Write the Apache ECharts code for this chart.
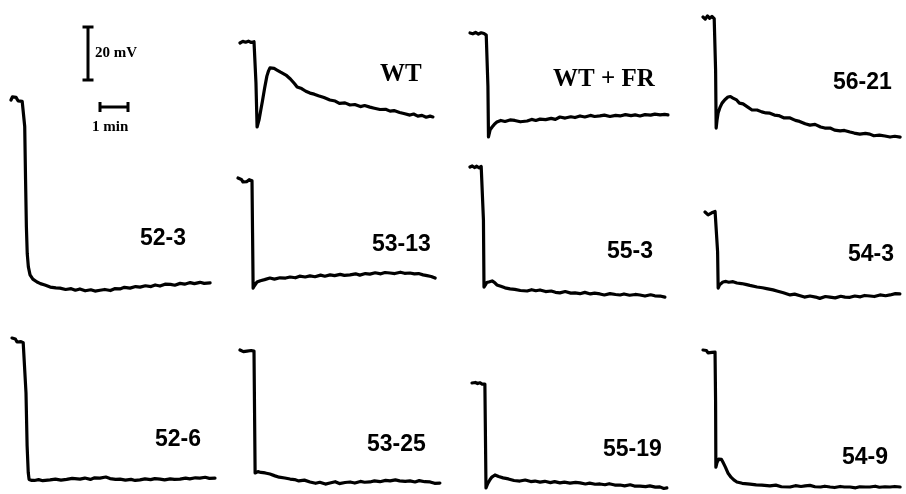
<!DOCTYPE html>
<html><head><meta charset="utf-8">
<script src="https://cdn.jsdelivr.net/npm/echarts@6/dist/echarts.min.js"></script>
<style>html,body{margin:0;padding:0;background:#fff}#c{width:906px;height:494px}</style>
</head><body><div id="c"></div>
<script>
// ---------- DATA (time in min, membrane potential change in mV) ----------
const LABELS = ['52-3','52-6','WT','53-13','53-25','WT + FR','55-3','55-19','56-21','54-3','54-9'];
const SCALE_MV = 20;
const SCALE_MIN = 1;
const SCALE_TEXT = ['20 mV','1 min'];

const T_52_3 = [0,0.05,0.11,0.18,0.25,0.32,0.4,0.46,0.49,0.52,0.55,0.58,0.62,0.68,0.78,0.93,1.05,1.21,1.4,1.6,1.75,1.95,2.15,2.3,2.46,2.65,2.85,3.0,3.18,3.35,3.55,3.7,3.89,4.05,4.25,4.45,4.61,4.8,5.0,5.15,5.32,5.5,5.7,5.85,6.04,6.2,6.4,6.55,6.75,6.9,7.11];
const V_52_3 = [0,1.2,0.6,1.0,-0.3,0.2,-0.5,-0.2,-10,-30,-48,-58,-63,-66,-67.6,-68.7,-69.3,-69.8,-70.6,-70.9,-71.0,-71.5,-71.2,-71.8,-71.3,-72.0,-71.6,-72.1,-71.8,-71.5,-71.9,-71.2,-71.3,-70.7,-71.0,-70.4,-70.6,-70.1,-70.4,-69.8,-70.2,-69.5,-69.6,-69.9,-69.2,-69.5,-68.9,-69.3,-68.8,-69.2,-69.0];

const T_52_6 = [0,0.06,0.12,0.18,0.25,0.32,0.4,0.46,0.5,0.54,0.58,0.61,0.66,0.71,0.8,0.95,1.1,1.36,1.55,1.75,1.95,2.15,2.43,2.6,2.8,2.95,3.14,3.35,3.5,3.7,3.86,4.05,4.25,4.4,4.57,4.75,4.95,5.1,5.29,5.45,5.65,5.8,6.0,6.2,6.35,6.55,6.71,6.9,7.05,7.25];
const V_52_6 = [0.75,1.2,0.4,-0.75,-0.9,-0.6,-1.0,-1.1,-20,-40,-50,-52.6,-53.2,-53.0,-53.0,-52.7,-53.1,-52.8,-52.5,-52.9,-52.6,-52.2,-52.5,-52.1,-52.6,-52.0,-52.1,-51.7,-52.3,-52.6,-52.5,-52.9,-52.6,-53.0,-52.8,-52.4,-52.7,-52.3,-52.5,-52.8,-52.4,-52.6,-52.5,-52.1,-52.4,-52.0,-52.1,-51.8,-52.2,-52.1];

const T_WT = [0,0.1,0.2,0.3,0.4,0.5,0.54,0.57,0.61,0.64,0.68,0.74,0.8,0.88,0.96,1.02,1.07,1.14,1.22,1.32,1.45,1.64,1.8,1.95,2.04,2.2,2.35,2.5,2.65,2.8,3.0,3.21,3.4,3.55,3.75,3.93,4.1,4.3,4.45,4.64,4.8,5.0,5.2,5.36,5.5,5.7,5.85,6.07,6.2,6.35,6.5,6.65,6.79,6.89];
const V_WT = [0,0.6,0.3,0.7,0.2,0.5,0.3,-15,-31.7,-31.0,-29,-25.5,-22,-17,-12.5,-10.5,-9.4,-9.2,-9.6,-10.2,-11.0,-12.1,-13.6,-15.4,-16.6,-17.2,-18.2,-18.9,-19.3,-19.9,-20.6,-21.5,-21.9,-22.8,-22.6,-23.4,-23.2,-24.0,-23.6,-24.2,-24.6,-25.1,-25.0,-25.7,-25.5,-26.2,-26.6,-27.2,-26.8,-27.6,-27.3,-28.0,-27.6,-27.9];

const T_53_13 = [0,0.06,0.12,0.18,0.25,0.32,0.4,0.46,0.5,0.52,0.54,0.58,0.68,0.8,0.95,1.14,1.3,1.5,1.7,1.86,2.05,2.2,2.4,2.57,2.75,2.95,3.1,3.29,3.45,3.65,3.8,4.0,4.2,4.35,4.55,4.71,4.9,5.1,5.25,5.43,5.6,5.8,5.95,6.14,6.3,6.45,6.61,6.75,6.9,7.04];
const V_53_13 = [0.75,1.0,0.2,-0.75,-0.3,-0.6,0.1,0,-0.3,-20,-40.8,-40,-38.5,-38.0,-37.6,-37.0,-37.4,-36.9,-37.0,-36.6,-36.9,-36.3,-36.6,-36.2,-36.5,-35.9,-36.3,-35.8,-36.1,-35.6,-36.0,-35.8,-35.4,-35.9,-35.3,-35.5,-35.0,-35.4,-34.9,-35.1,-35.3,-34.8,-35.2,-35.1,-35.4,-35.3,-35.8,-36.1,-36.4,-37.0];

const T_53_25 = [0,0.06,0.12,0.18,0.25,0.32,0.4,0.46,0.5,0.54,0.58,0.64,0.75,0.9,1.07,1.25,1.4,1.6,1.79,1.95,2.1,2.3,2.5,2.7,2.85,3.05,3.21,3.4,3.55,3.75,3.93,4.1,4.3,4.45,4.64,4.8,5.0,5.2,5.36,5.55,5.7,5.9,6.07,6.25,6.4,6.6,6.79,6.95,7.14];
const V_53_25 = [0,-0.3,-0.6,-0.75,-0.4,-0.6,-0.2,-0.4,-0.4,-46.4,-46.0,-45.9,-46.2,-46.4,-46.8,-47.5,-48.0,-48.3,-48.7,-48.9,-49.4,-49.1,-49.8,-50.3,-49.9,-50.6,-50.2,-49.7,-50.4,-50.0,-49.8,-50.2,-49.6,-49.9,-49.8,-49.4,-49.7,-49.2,-49.4,-49.0,-49.4,-49.6,-49.4,-49.8,-49.3,-49.7,-49.8,-50.3,-50.2];

const T_WT_FR = [0,0.1,0.2,0.3,0.4,0.5,0.58,0.62,0.64,0.66,0.72,0.79,0.88,0.96,1.1,1.25,1.43,1.6,1.8,2.04,2.2,2.35,2.5,2.7,2.9,3.05,3.21,3.4,3.6,3.75,3.93,4.1,4.3,4.45,4.64,4.8,5.0,5.2,5.36,5.55,5.75,5.9,6.07,6.25,6.45,6.6,6.79,6.95,7.07];
const V_WT_FR = [0,-0.3,0.2,-0.4,0.1,-0.2,-0.8,-1.5,-20,-39.2,-36.5,-35.5,-34.3,-33.6,-33.0,-33.4,-32.8,-33.0,-33.5,-33.2,-32.6,-33.0,-32.5,-32.7,-32.2,-32.6,-31.7,-32.1,-31.6,-31.9,-31.3,-31.7,-31.1,-31.5,-31.3,-31.0,-31.5,-31.1,-31.3,-30.8,-31.2,-30.9,-31.3,-30.8,-31.0,-30.6,-30.9,-30.7,-30.9];

const T_55_3 = [0,0.08,0.16,0.24,0.32,0.4,0.46,0.48,0.5,0.55,0.6,0.64,0.7,0.79,0.88,0.96,1.1,1.25,1.43,1.6,1.8,2.04,2.2,2.35,2.5,2.7,2.9,3.05,3.21,3.4,3.6,3.75,3.93,4.1,4.3,4.45,4.64,4.8,5.0,5.2,5.36,5.5,5.7,5.9,6.07,6.25,6.45,6.6,6.79,6.96];
const V_55_3 = [0,0.4,-0.2,0.3,-0.3,0.2,-0.4,-20,-45.3,-44.5,-43.6,-43.4,-43.3,-43.0,-43.6,-44.5,-45.0,-45.6,-46.0,-46.2,-46.6,-46.8,-46.3,-46.7,-46.4,-47.0,-46.8,-47.3,-47.5,-47.0,-47.6,-47.5,-47.8,-47.3,-47.9,-47.6,-47.9,-48.3,-47.8,-48.1,-48.3,-47.9,-48.4,-48.1,-48.3,-48.7,-48.2,-48.6,-48.7,-49.1];

const T_55_19 = [0,0.06,0.12,0.2,0.28,0.36,0.42,0.46,0.48,0.5,0.56,0.64,0.71,0.82,0.95,1.11,1.3,1.5,1.71,1.9,2.1,2.25,2.43,2.6,2.8,2.95,3.14,3.3,3.5,3.7,3.86,4.05,4.2,4.4,4.57,4.75,4.9,5.1,5.29,5.45,5.65,5.8,6.0,6.2,6.35,6.55,6.71,6.85,6.96];
const V_55_19 = [0,-0.3,0.2,-0.2,0.1,-0.4,0.0,-0.4,-20,-39.6,-38.0,-36.5,-35.5,-34.7,-35.3,-35.8,-36.2,-36.8,-37.0,-36.6,-37.2,-37.0,-37.4,-37.1,-37.6,-37.2,-37.7,-37.4,-37.8,-37.5,-37.7,-38.1,-37.8,-38.2,-38.1,-38.4,-38.0,-38.5,-38.5,-38.8,-38.4,-38.9,-38.9,-39.1,-38.8,-39.3,-39.2,-39.8,-39.6];

const T_56_21 = [0,0.08,0.16,0.24,0.32,0.4,0.43,0.45,0.47,0.5,0.54,0.6,0.68,0.78,0.89,0.98,1.07,1.2,1.3,1.43,1.6,1.75,1.93,2.1,2.25,2.39,2.55,2.7,2.9,3.11,3.3,3.45,3.65,3.82,4.0,4.2,4.35,4.54,4.7,4.9,5.05,5.25,5.4,5.6,5.8,5.96,6.1,6.3,6.5,6.68,6.85,7.04];
const V_56_21 = [0,-0.8,0.4,-0.5,0.2,-0.6,-0.4,-20,-41.9,-39,-36.2,-34.3,-32.5,-31.2,-30.2,-30.0,-30.6,-31.3,-32.5,-32.8,-34.0,-35.1,-35.1,-35.8,-36.2,-36.3,-37.0,-37.2,-38.1,-38.1,-39.0,-39.4,-40.3,-40.8,-40.5,-41.5,-41.9,-41.9,-42.7,-43.0,-42.8,-43.4,-43.8,-44.2,-43.9,-44.2,-44.8,-44.6,-44.9,-45.3,-45.0,-45.3];

const T_54_3 = [0,0.05,0.11,0.18,0.24,0.29,0.36,0.43,0.45,0.47,0.52,0.58,0.64,0.75,0.85,1.0,1.14,1.3,1.45,1.6,1.86,2.05,2.2,2.43,2.6,2.8,3.04,3.2,3.4,3.55,3.75,3.95,4.1,4.3,4.46,4.65,4.85,5.0,5.18,5.35,5.55,5.7,5.89,6.05,6.25,6.45,6.61,6.8,6.96];
const V_54_3 = [0,0.6,-1.1,-0.8,-0.3,-0.4,0.2,-0.4,-15,-28.7,-27.5,-26.8,-26.4,-26.2,-26.5,-26.3,-26.8,-27.0,-27.3,-27.7,-28.3,-28.6,-28.9,-29.4,-29.9,-30.5,-31.3,-31.0,-31.6,-32.1,-31.7,-32.1,-32.6,-31.9,-32.1,-32.4,-31.8,-32.1,-32.2,-31.7,-32.0,-31.5,-31.7,-31.9,-31.3,-31.6,-31.3,-30.8,-30.9];

const T_54_9 = [0,0.06,0.12,0.18,0.25,0.32,0.38,0.43,0.45,0.46,0.5,0.56,0.61,0.66,0.71,0.8,0.89,1.0,1.1,1.21,1.4,1.68,1.9,2.1,2.39,2.6,2.8,3.11,3.3,3.5,3.65,3.82,4.0,4.2,4.35,4.54,4.7,4.9,5.05,5.25,5.45,5.6,5.8,5.96,6.15,6.3,6.5,6.68,6.85,7.04];
const V_54_9 = [0,0.4,-0.2,-1.1,-0.6,-0.9,-0.5,-0.75,-20,-44.2,-42.5,-41.2,-40.8,-41.3,-42.3,-44.2,-46.4,-48.0,-49.0,-49.8,-50.3,-50.6,-50.9,-51.0,-51.3,-51.0,-51.6,-51.7,-51.2,-51.5,-51.3,-51.1,-51.6,-51.7,-51.4,-51.7,-51.9,-51.5,-51.7,-51.7,-52.0,-51.6,-51.7,-51.7,-51.4,-51.8,-51.6,-51.7,-51.5,-51.7];

const SERIES_T = [T_52_3,T_52_6,T_WT,T_53_13,T_53_25,T_WT_FR,T_55_3,T_55_19,T_56_21,T_54_3,T_54_9];
const SERIES_V = [V_52_3,V_52_6,V_WT,V_53_13,V_53_25,V_WT_FR,V_55_3,V_55_19,V_56_21,V_54_3,V_54_9];

// ---------- LAYOUT (pixels) ----------
const PX_PER_MIN = 28, PX_PER_MV = 2.65;
// pixel position of (t=0, V=0) of each panel
const ORIGINS = [[11,100],[12,340],[240,43],[238,180],[240,350],[470,33],[470,167],[472,383],[703,17],[705,212],[703,350]];
const LABEL_POS = [[140,239],[155,440],[380,75],[372,245],[367,445],[553,80],[607,252],[603,450],[833,83],[848,255],[842,458]];
const SERIF_LABEL = [false,false,true,false,false,true,false,false,false,false,false];
const SCALE_V_ORIGIN = [88,80], SCALE_T_ORIGIN = [100,107];
const SCALE_TEXT_POS = [[95,53],[92,127]];

const chart = echarts.init(document.getElementById('c'), null, {renderer:'canvas'});
const grids = [], xAxes = [], yAxes = [], series = [], graphics = [];
// each panel gets a grid that uses the same px/min and px/mV scale, sized to its data extent
function addGrid(ox, oy, tMin, tMax, vMin, vMax){
  const i = grids.length;
  grids.push({left: ox + tMin*PX_PER_MIN, top: oy - vMax*PX_PER_MV, width: (tMax - tMin)*PX_PER_MIN,
    height: (vMax - vMin)*PX_PER_MV, containLabel:false, show:false});
  xAxes.push({type:'value', gridIndex:i, min:tMin, max:tMax, show:false});
  yAxes.push({type:'value', gridIndex:i, min:vMin, max:vMax, show:false});
  return i;
}
const lineStyle = {color:'#000', width:3.2, join:'round', cap:'round'};
SERIES_T.forEach((t, k) => {
  const v = SERIES_V[k];
  const tMax = Math.max(...t) + 0.05;
  const vMin = Math.min(...v) - 1, vMax = Math.max(...v) + 1;
  const i = addGrid(ORIGINS[k][0], ORIGINS[k][1], 0, tMax, vMin, vMax);
  series.push({type:'line', name:LABELS[k], xAxisIndex:i, yAxisIndex:i, data:t.map((x,j)=>[x, v[j]]),
    symbol:'none', showSymbol:false, lineStyle:lineStyle, clip:false, silent:true, animation:false});
  graphics.push({type:'text', x:LABEL_POS[k][0], y:LABEL_POS[k][1], silent:true,
    style:{text:LABELS[k], fill:'#000', align:'left', verticalAlign:'middle',
      font: SERIF_LABEL[k] ? 'bold 25px "Liberation Serif", serif' : 'bold 23px "Liberation Sans", sans-serif'}});
});
// scale bars
const gv = addGrid(SCALE_V_ORIGIN[0], SCALE_V_ORIGIN[1], -0.5, 0.5, -2, SCALE_MV + 2);
series.push({type:'line', xAxisIndex:gv, yAxisIndex:gv, data:[[0,0],[0,SCALE_MV]], symbol:'rect', symbolSize:[11,3], showSymbol:true,
  itemStyle:{color:'#000'}, lineStyle:{color:'#000', width:3}, clip:false, silent:true, animation:false});
const gt = addGrid(SCALE_T_ORIGIN[0], SCALE_T_ORIGIN[1], -0.2, SCALE_MIN + 0.2, -3, 3);
series.push({type:'line', xAxisIndex:gt, yAxisIndex:gt, data:[[0,0],[SCALE_MIN,0]], symbol:'rect', symbolSize:[3,10], showSymbol:true,
  itemStyle:{color:'#000'}, lineStyle:{color:'#000', width:3}, clip:false, silent:true, animation:false});
SCALE_TEXT.forEach((s,k)=>{
  graphics.push({type:'text', x:SCALE_TEXT_POS[k][0], y:SCALE_TEXT_POS[k][1], silent:true,
    style:{text:s, fill:'#000', align:'left', verticalAlign:'middle', font:'bold 15px "Liberation Serif", serif'}});
});

chart.setOption({
  animation:false,
  backgroundColor:'#fff',
  grid:grids, xAxis:xAxes, yAxis:yAxes, series:series, graphic:graphics,
  tooltip:{show:false}
});
</script></body></html>
